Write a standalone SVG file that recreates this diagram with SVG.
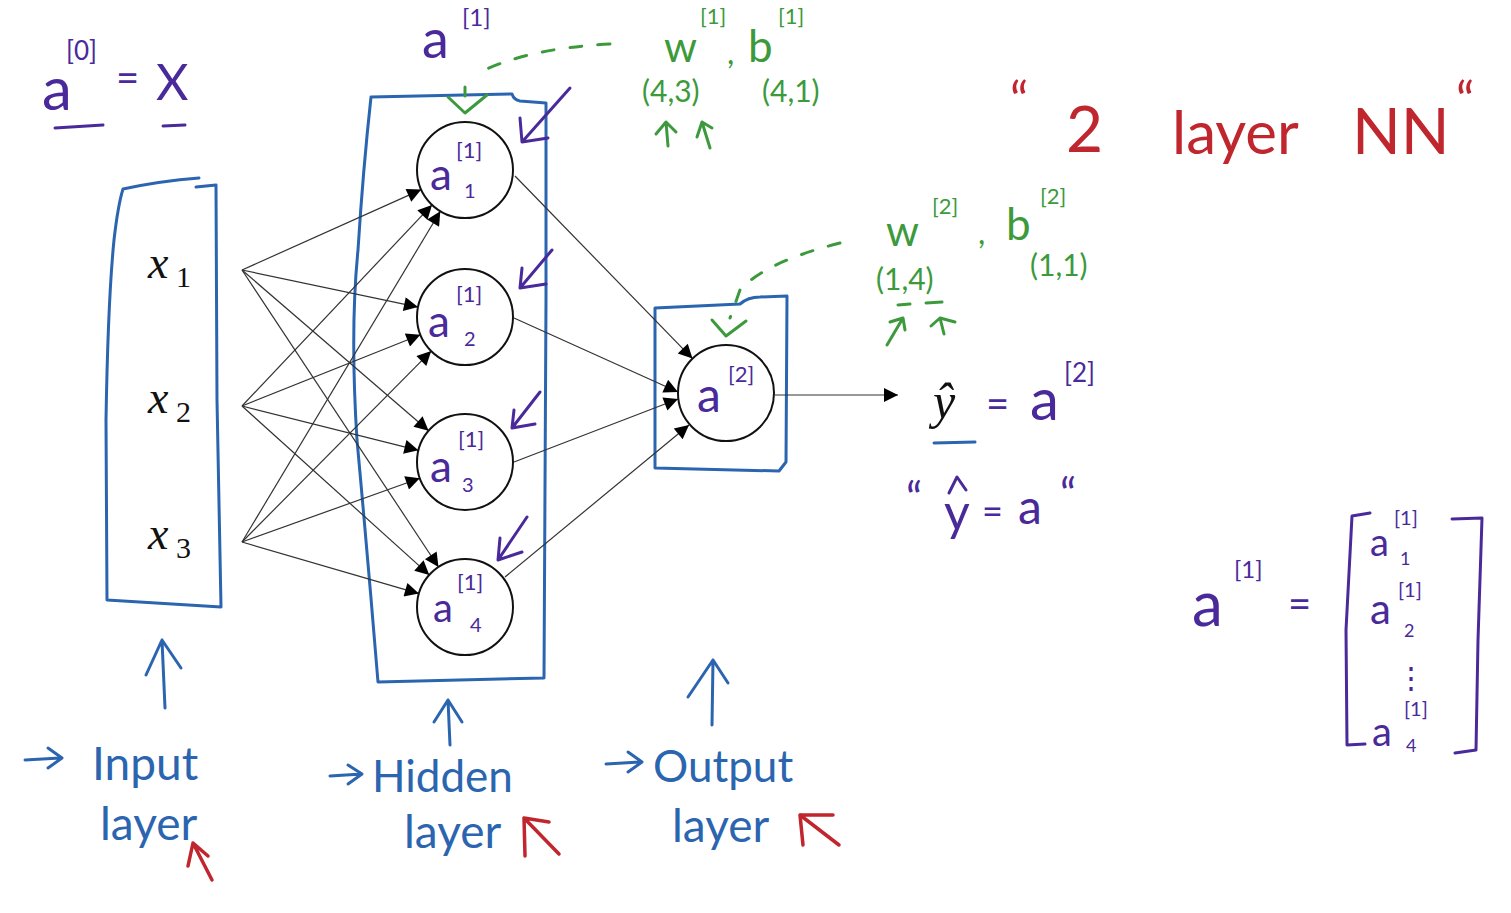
<svg xmlns="http://www.w3.org/2000/svg" width="1511" height="913" viewBox="0 0 1511 913">
<defs>
<marker id="ah" viewBox="0 0 10 10" refX="10" refY="5" markerWidth="18" markerHeight="14" markerUnits="userSpaceOnUse" orient="auto"><path d="M0,0 L10,5 L0,10 Z" fill="#000"/></marker>
<style>
.hand{font-family:"Lato","Noto Sans",sans-serif;font-weight:400}
.pur{fill:#4a2a9a}
.grn{fill:#3c9a3c}
.red{fill:#c0262d}
.blu{fill:#2b65b0}
.ps{stroke:#4a2a9a;fill:none;stroke-width:3;stroke-linecap:round;stroke-linejoin:round}
.gs{stroke:#3c9a3c;fill:none;stroke-width:3;stroke-linecap:round;stroke-linejoin:round}
.rs{stroke:#c0262d;fill:none;stroke-width:3.5;stroke-linecap:round;stroke-linejoin:round}
.bs{stroke:#2b65b0;fill:none;stroke-width:3;stroke-linecap:round;stroke-linejoin:round}
.node{fill:#fff;stroke:#111;stroke-width:2}
.edge{stroke:#333;stroke-width:1.2;fill:none;marker-end:url(#ah)}
.math{font-family:"Liberation Serif",serif;font-style:italic;fill:#111}
</style>
</defs>
<rect width="1511" height="913" fill="#fff"/>

<!-- layer boxes -->
<g id="input-box">
<path class="bs" d="M123 189 Q160 181 199 178 M196 187 L216 185 L217 400 L221 607 L107 600 L106 420 Q108 300 114 240 Q118 205 123 189"/>
</g>
<g id="hidden-box">
<path class="bs" d="M371 97 L512 94 Q514 100 520 101 L546 103 L546 300 L544 678 L378 682 Q368 560 357 440 Q350 330 358 250 Q363 170 371 97"/>
</g>
<g id="output-box">
<path class="bs" d="M655 308 L740 304 Q748 297 760 297 L787 296 L786 462 L779 471 L655 468 Z"/>
</g>

<!-- connectors -->
<g id="connectors">
<path class="edge" d="M242 270 L421.2 189.6"/>
<path class="edge" d="M242 270 L418 307.1"/>
<path class="edge" d="M242 270 L428.6 430.7"/>
<path class="edge" d="M242 270 L438.5 567"/>
<path class="edge" d="M242 406 L432 204.9"/>
<path class="edge" d="M242 406 L420.4 334.8"/>
<path class="edge" d="M242 406 L418.4 450.3"/>
<path class="edge" d="M242 406 L429.3 574.9"/>
<path class="edge" d="M242 542 L440.3 211.2"/>
<path class="edge" d="M242 542 L431.2 351.1"/>
<path class="edge" d="M242 542 L419.8 478.2"/>
<path class="edge" d="M242 542 L418.9 593.6"/>
<path class="edge" d="M515 176 L692.5 358.6"/>
<path class="edge" d="M514 318 L678 392"/>
<path class="edge" d="M514 462 L678 399"/>
<path class="edge" d="M505 577 L689 425"/>
<path class="edge" d="M775 395 L898 395"/>
</g>

<!-- input nodes -->
<g id="x1"><text class="math" x="148" y="278" font-size="46">x</text><text x="176" y="287" font-size="30" font-family="Liberation Serif,serif" fill="#111">1</text></g>
<g id="x2"><text class="math" x="148" y="413" font-size="46">x</text><text x="176" y="422" font-size="30" font-family="Liberation Serif,serif" fill="#111">2</text></g>
<g id="x3"><text class="math" x="148" y="549" font-size="46">x</text><text x="176" y="558" font-size="30" font-family="Liberation Serif,serif" fill="#111">3</text></g>

<!-- hidden nodes -->
<g id="a1"><circle class="node" cx="465" cy="170" r="48"/><text class="hand pur" x="430" y="190" font-size="44">a</text><text class="hand pur" x="456" y="158" font-size="22">[1]</text><text class="hand pur" x="464" y="198" font-size="20">1</text></g>
<g id="a2"><circle class="node" cx="465" cy="317" r="48"/><text class="hand pur" x="428" y="337" font-size="44">a</text><text class="hand pur" x="456" y="302" font-size="22">[1]</text><text class="hand pur" x="464" y="346" font-size="20">2</text></g>
<g id="a3"><circle class="node" cx="465" cy="462" r="48"/><text class="hand pur" x="430" y="482" font-size="44">a</text><text class="hand pur" x="458" y="447" font-size="22">[1]</text><text class="hand pur" x="462" y="492" font-size="20">3</text></g>
<g id="a4"><circle class="node" cx="465" cy="607" r="48"/><text class="hand pur" x="433" y="622" font-size="40">a</text><text class="hand pur" x="457" y="590" font-size="22">[1]</text><text class="hand pur" x="470" y="632" font-size="20">4</text></g>

<!-- output node -->
<g id="out"><circle class="node" cx="726" cy="393" r="48"/><text class="hand pur" x="697" y="412" font-size="48">a</text><text class="hand pur" x="728" y="382" font-size="22">[2]</text></g>

<!-- top-left annotation -->
<g id="a0x">
<text class="hand pur" x="42" y="110" font-size="60">a</text>
<text class="hand pur" x="66" y="60" font-size="26">[0]</text>
<text class="hand pur" x="116" y="92" font-size="40">=</text>
<text class="hand pur" x="156" y="100" font-size="50">X</text>
<path class="ps" d="M55 128 L103 125 M163 126 L185 125"/>
</g>

<!-- a[1] with w,b annotation -->
<g id="a1-label">
<text class="hand pur" x="422" y="58" font-size="54">a</text>
<text class="hand pur" x="462" y="26" font-size="24">[1]</text>
<path class="gs" stroke-dasharray="12 16" d="M610 44 Q530 48 480 72"/>
<path class="gs" d="M465 87 L465 96 M448 97 L465 113 L487 95"/>
</g>
<g id="w1b1">
<text class="hand grn" x="664" y="62" font-size="42">w</text>
<text class="hand grn" x="700" y="24" font-size="22">[1]</text>
<text class="hand grn" x="727" y="64" font-size="32">,</text>
<text class="hand grn" x="748" y="62" font-size="44">b</text>
<text class="hand grn" x="778" y="24" font-size="22">[1]</text>
<text class="hand grn" x="642" y="102" font-size="30">(4,3)</text>
<text class="hand grn" x="762" y="102" font-size="30">(4,1)</text>
<path class="gs" d="M668 146 L666 122 M656 134 L666 122 L676 132 M710 148 L702 122 M697 137 L702 122 L712 128"/>
</g>

<!-- purple arrows into hidden nodes -->
<g id="hidden-arrows">
<path class="ps" d="M570 88 L522 142 M520 118 L522 142 L548 138"/>
<path class="ps" d="M552 250 L520 288 M522 268 L520 288 L546 284"/>
<path class="ps" d="M540 392 L512 428 M514 410 L512 428 L535 424"/>
<path class="ps" d="M527 517 L498 560 M500 538 L498 560 L522 552"/>
</g>

<!-- 2 layer NN -->
<g id="title">
<text class="hand red" x="1010" y="118" font-size="50">“</text>
<text class="hand red" x="1066" y="152" font-size="64">2</text>
<text class="hand red" x="1172" y="154" font-size="60">layer</text>
<text class="hand red" x="1352" y="154" font-size="64">NN</text>
<text class="hand red" x="1456" y="118" font-size="50">“</text>
</g>

<!-- w2 b2 annotation -->
<g id="w2b2">
<text class="hand grn" x="886" y="246" font-size="42">w</text>
<text class="hand grn" x="932" y="214" font-size="22">[2]</text>
<text class="hand grn" x="978" y="244" font-size="32">,</text>
<text class="hand grn" x="1006" y="240" font-size="44">b</text>
<text class="hand grn" x="1040" y="204" font-size="22">[2]</text>
<text class="hand grn" x="876" y="290" font-size="30">(1,4)</text>
<text class="hand grn" x="1030" y="276" font-size="30">(1,1)</text>
<path class="gs" d="M898 305 L910 304 M926 303 L942 302"/>
<path class="gs" d="M887 345 L903 318 M890 322 L903 318 L905 330 M944 334 L940 318 M931 326 L940 318 L955 322"/>
<path class="gs" stroke-dasharray="12 16" d="M840 243 Q765 262 740 290 L730 318"/>
<path class="gs" d="M712 320 L726 336 L746 321"/>
</g>

<!-- yhat = a[2] -->
<g id="yhat">
<text class="math" x="933" y="418" font-size="50">ŷ</text>
<path class="bs" d="M934 443 L975 442"/>
<text class="hand pur" x="986" y="418" font-size="40">=</text>
<text class="hand pur" x="1030" y="420" font-size="58">a</text>
<text class="hand pur" x="1064" y="382" font-size="26">[2]</text>
</g>
<g id="yhat-quote">
<text class="hand pur" x="906" y="514" font-size="44">“</text>
<path class="ps" d="M949 493 L957 477 L966 490"/>
<text class="hand pur" x="944" y="530" font-size="50">y</text>
<text class="hand pur" x="982" y="524" font-size="36">=</text>
<text class="hand pur" x="1018" y="524" font-size="48">a</text>
<text class="hand pur" x="1060" y="510" font-size="44">“</text>
</g>

<!-- vector a[1] -->
<g id="a1-vector">
<text class="hand pur" x="1192" y="626" font-size="62">a</text>
<text class="hand pur" x="1234" y="578" font-size="24">[1]</text>
<text class="hand pur" x="1288" y="618" font-size="40">=</text>
<path class="ps" d="M1370 513 L1352 516 L1346 630 L1347 745 L1365 744"/>
<path class="ps" d="M1452 519 L1482 518 L1478 640 L1476 750 L1455 753"/>
<text class="hand pur" x="1370" y="556" font-size="38">a</text>
<text class="hand pur" x="1394" y="525" font-size="20">[1]</text>
<text class="hand pur" x="1400" y="565" font-size="18">1</text>
<text class="hand pur" x="1370" y="624" font-size="42">a</text>
<text class="hand pur" x="1398" y="597" font-size="20">[1]</text>
<text class="hand pur" x="1404" y="637" font-size="18">2</text>
<text class="hand pur" x="1396" y="688" font-size="30">⋮</text>
<text class="hand pur" x="1372" y="746" font-size="40">a</text>
<text class="hand pur" x="1404" y="716" font-size="20">[1]</text>
<text class="hand pur" x="1406" y="752" font-size="18">4</text>
</g>

<!-- layer labels -->
<g id="input-label">
<path class="bs" d="M165 708 L162 640 M146 675 L162 640 L181 668"/>
<path class="bs" d="M25 760 L60 758 M48 748 L62 758 L48 768"/>
<text class="hand blu" x="92" y="780" font-size="46">Input</text>
<text class="hand blu" x="100" y="840" font-size="46">layer</text>
<path class="rs" d="M212 880 L193 843 M188 866 L193 843 L208 856"/>
</g>
<g id="hidden-label">
<path class="bs" d="M450 745 L448 700 M434 722 L448 700 L462 722"/>
<path class="bs" d="M330 776 L362 774 M348 765 L362 774 L348 784"/>
<text class="hand blu" x="372" y="792" font-size="44">Hidden</text>
<text class="hand blu" x="404" y="848" font-size="46">layer</text>
<path class="rs" d="M559 854 L524 818 L525 856 M524 818 L549 822"/>
</g>
<g id="output-label">
<path class="bs" d="M712 725 L713 660 M688 697 L713 660 L728 683"/>
<path class="bs" d="M606 764 L640 762 M628 752 L642 762 L628 772"/>
<text class="hand blu" x="653" y="782" font-size="44">Output</text>
<text class="hand blu" x="672" y="842" font-size="46">layer</text>
<path class="rs" d="M839 845 L800 815 L803 845 M800 815 L833 815"/>
</g>
</svg>
